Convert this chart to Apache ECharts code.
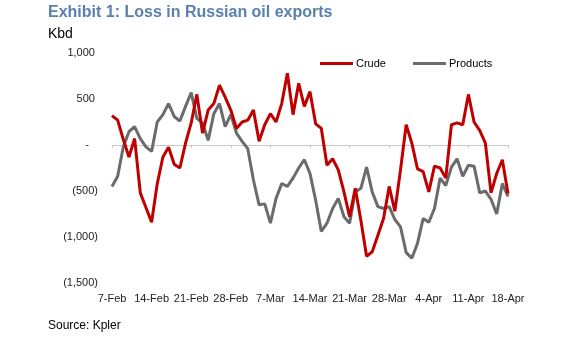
<!DOCTYPE html>
<html>
<head>
<meta charset="utf-8">
<script src="https://cdn.jsdelivr.net/npm/echarts@6/dist/echarts.min.js"></script>
<style>
  html, body { margin: 0; padding: 0; background: #fff; }
  #chart { width: 581px; height: 349px; }
</style>
</head>
<body>
<div id="chart"></div>
<script>
// Daily dates, 7 Feb to 18 Apr
const dates = [
  '7-Feb','8-Feb','9-Feb','10-Feb','11-Feb','12-Feb','13-Feb','14-Feb','15-Feb','16-Feb',
  '17-Feb','18-Feb','19-Feb','20-Feb','21-Feb','22-Feb','23-Feb','24-Feb','25-Feb','26-Feb',
  '27-Feb','28-Feb','1-Mar','2-Mar','3-Mar','4-Mar','5-Mar','6-Mar','7-Mar','8-Mar',
  '9-Mar','10-Mar','11-Mar','12-Mar','13-Mar','14-Mar','15-Mar','16-Mar','17-Mar','18-Mar',
  '19-Mar','20-Mar','21-Mar','22-Mar','23-Mar','24-Mar','25-Mar','26-Mar','27-Mar','28-Mar',
  '29-Mar','30-Mar','31-Mar','1-Apr','2-Apr','3-Apr','4-Apr','5-Apr','6-Apr','7-Apr',
  '8-Apr','9-Apr','10-Apr','11-Apr','12-Apr','13-Apr','14-Apr','15-Apr','16-Apr','17-Apr',
  '18-Apr'
];

// Change in Russian crude exports, kbd
const crude = [
  320, 270, 60, -130, 70, -520, -680, -840, -420, -130,
  -25, -210, -250, 20, 240, 550, 130, 380, 450, 650,
  520, 380, 180, 250, 270, 380, 40, 220, 340, 250,
  450, 780, 330, 670, 420, 580, 230, 180, -220, -150,
  -270, -510, -780, -470, -820, -1210, -1160, -980, -800, -450,
  -720, -270, 220, 20, -260, -290, -510, -230, -250, -360,
  220, 240, 220, 550, 250, 160, 20, -520, -310, -160,
  -530
];

// Change in Russian product exports, kbd
const products = [
  -450, -340, -20, 145, 200, 70, -20, -70, 250, 330,
  450, 310, 260, 420, 570, 290, 240, 50, 340, 450,
  200, 330, 130, 40, -40, -380, -650, -640, -850, -580,
  -420, -450, -360, -250, -160, -310, -600, -940, -850, -690,
  -580, -780, -850, -510, -470, -240, -510, -670, -690, -670,
  -810, -890, -1170, -1230, -1070, -800, -840, -690, -360, -440,
  -240, -150, -340, -220, -230, -520, -500, -590, -750, -420,
  -560
];

// Y axis range and step
const yMin = -1500, yMax = 1000, yStep = 500;

const FONT = '"Liberation Sans", Arial, sans-serif';

function fmtKbd(v) {
  if (v === 0) return '-   ';
  const s = Math.abs(v).toLocaleString('en-US');
  return v < 0 ? '(' + s + ')' : s + ' ';
}

const chart = echarts.init(document.getElementById('chart'), null, { renderer: 'canvas' });

chart.setOption({
  animation: false,
  backgroundColor: '#ffffff',
  title: [
    {
      text: 'Exhibit 1: Loss in Russian oil exports',
      left: 48, top: 5, padding: 0,
      textStyle: { fontFamily: FONT, fontSize: 16, fontWeight: 'bold', color: '#5a80ad' }
    },
    {
      text: 'Kbd',
      left: 48, top: 27, padding: 0,
      textStyle: { fontFamily: FONT, fontSize: 14, fontWeight: 'normal', color: '#000' }
    },
    {
      text: 'Source: Kpler',
      left: 48, top: 320, padding: 0,
      textStyle: { fontFamily: FONT, fontSize: 12, fontWeight: 'normal', color: '#000' }
    }
  ],
  legend: {
    left: 320, top: 58, padding: 0,
    itemWidth: 33, itemHeight: 3, itemGap: 27,
    icon: 'rect',
    textStyle: { fontFamily: FONT, fontSize: 11, color: '#000', padding: [0, 0, 0, -2] },
    data: ['Crude', 'Products']
  },
  grid: { left: 112, right: 73, top: 53, bottom: 66, containLabel: false },
  xAxis: [
    {
      type: 'category', data: dates, boundaryGap: false, position: 'bottom',
      axisLine: { show: false, onZero: false },
      axisTick: { show: false },
      axisLabel: { interval: 6, margin: 10, hideOverlap: false, fontFamily: FONT, fontSize: 11, color: '#222' }
    },
    {
      type: 'category', data: dates, boundaryGap: false, position: 'bottom',
      axisLine: { show: true, onZero: true, lineStyle: { color: '#c8c8c8', width: 1 } },
      axisTick: { show: true, interval: 6, length: 3, lineStyle: { color: '#c8c8c8' } },
      axisLabel: { show: false }
    }
  ],
  yAxis: {
    type: 'value', min: yMin, max: yMax, interval: yStep,
    axisLine: { show: false }, axisTick: { show: false }, splitLine: { show: false },
    axisLabel: { margin: 14, formatter: fmtKbd, fontFamily: FONT, fontSize: 11, color: '#222' }
  },
  series: [
    {
      name: 'Crude', type: 'line', data: crude, xAxisIndex: 0,
      showSymbol: false, symbol: 'none', color: '#c00000',
      lineStyle: { width: 3, color: '#c00000' }, z: 3
    },
    {
      name: 'Products', type: 'line', data: products, xAxisIndex: 0,
      showSymbol: false, symbol: 'none', color: '#6b6b6b',
      lineStyle: { width: 3, color: '#6b6b6b' }, z: 2
    }
  ]
});
</script>
</body>
</html>
